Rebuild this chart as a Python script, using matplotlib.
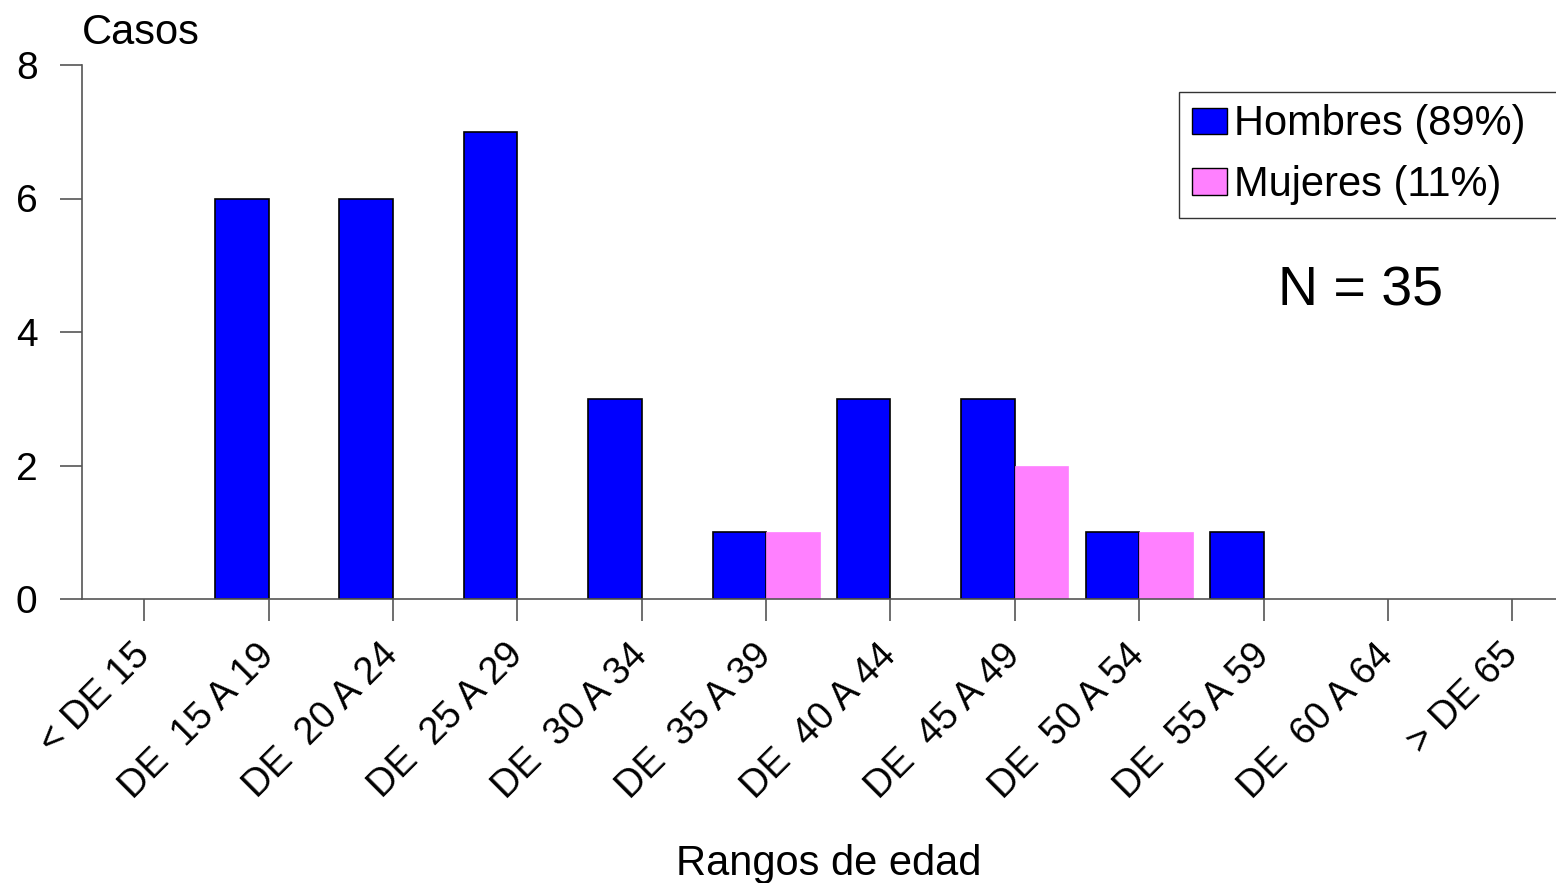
import matplotlib.pyplot as plt
import numpy as np

plt.rcParams['font.family'] = ['Liberation Sans', 'DejaVu Sans']

categorias = ['< DE 15', 'DE  15 A 19', 'DE  20 A 24', 'DE  25 A 29', 'DE  30 A 34',
              'DE  35 A 39', 'DE  40 A 44', 'DE  45 A 49', 'DE  50 A 54', 'DE  55 A 59',
              'DE  60 A 64', '> DE 65']
hombres = [0, 6, 6, 7, 3, 1, 3, 3, 1, 1, 0, 0]
mujeres = [0, 0, 0, 0, 0, 1, 0, 2, 1, 0, 0, 0]

W, H = 1556, 883
fig = plt.figure(figsize=(W / 100, H / 100), dpi=100)
ax = fig.add_axes([82 / W, (H - 599) / H, (W - 82) / W, (599 - 65) / H])

x = np.arange(len(categorias))
ancho = 0.43
b1 = ax.bar(x, hombres, width=-ancho, align='edge', color='#0000ff',
            edgecolor='black', linewidth=1.2, label='Hombres (89%)')
b2 = ax.bar(x, mujeres, width=ancho, align='edge', color='#ff80ff',
            edgecolor='#ff80ff', linewidth=0.5, label='Mujeres (11%)')

ax.set_xlim(-0.5, (W - 144) / 124.4)
ax.set_ylim(0, 8)
ax.set_yticks([0, 2, 4, 6, 8])
ax.set_xticks(x)
ax.set_xticklabels(categorias, rotation=45, ha='right', va='center',
                   rotation_mode='anchor', fontsize=27.5)
ax.tick_params(axis='y', labelsize=28, length=16, width=1.2, color='#555555', pad=16)
ax.tick_params(axis='x', length=15.5, width=1.2, color='#555555', pad=21)

for s in ['top', 'right']:
    ax.spines[s].set_visible(False)
for s in ['left', 'bottom']:
    ax.spines[s].set_color('#555555')
    ax.spines[s].set_linewidth(1.2)

fig.text(82 / W, 1 - 44 / H, 'Casos', fontsize=30, ha='left', va='baseline')
fig.text(829 / W, 1 - 875 / H, 'Rangos de edad', fontsize=30, ha='center', va='baseline')
fig.text(1361 / W, 1 - 306 / H, 'N = 35', fontsize=40, ha='center', va='baseline')

leg = fig.legend(loc='upper left', bbox_to_anchor=(1179 / W, 1 - 92 / H, 0.3, 0.0),
                 mode='expand', fontsize=30, frameon=True, fancybox=False,
                 borderaxespad=0, borderpad=0.3, handlelength=0.86, handleheight=0.6,
                 handletextpad=0.17, labelspacing=0.5)
leg.get_frame().set_edgecolor('black')
leg.get_frame().set_linewidth(1.0)
for h in leg.legend_handles:
    h.set_edgecolor('black')
    h.set_linewidth(1.0)

# las barras vacias no se dibujan
for p in list(b1) + list(b2):
    if p.get_height() == 0:
        p.set_visible(False)

fig.savefig('out.png', dpi=100)
